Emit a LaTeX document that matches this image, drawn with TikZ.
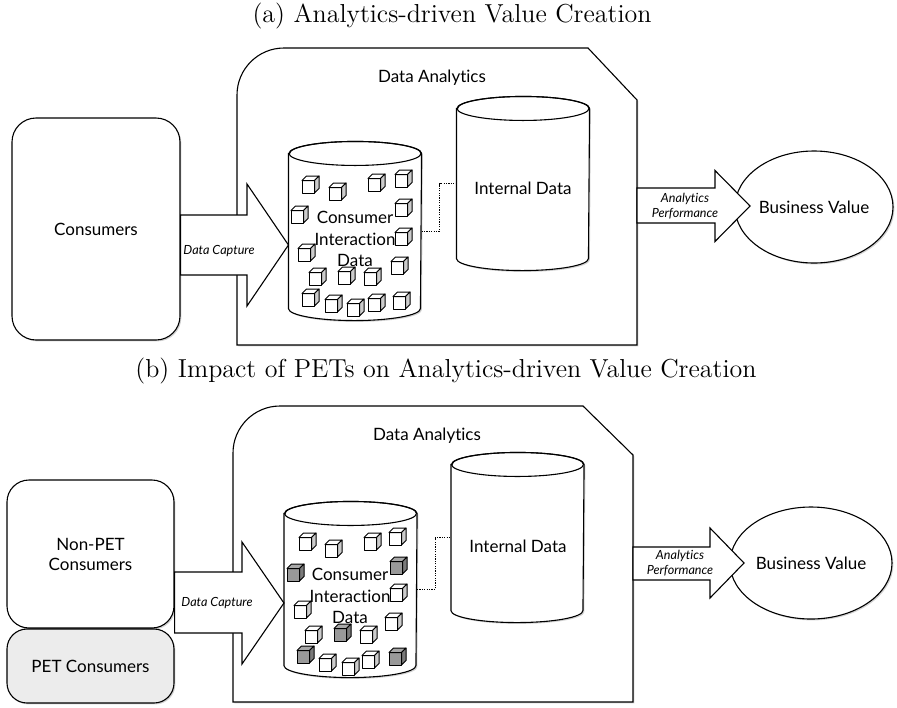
\documentclass[tikz,border=0pt]{standalone}
\usepackage{fontspec}
\newfontfamily\labelfont{Lato}[Ligatures=NoCommon]
\usetikzlibrary{calc,shadows,shapes.geometric}

\colorlet{petface}{gray!80}
\colorlet{petbox}{gray!15}

% a small data cube: front face, top face, shaded side
\tikzset{
  cubeline/.style={line width=0.5pt, line join=round},
  pics/datacube/.style={code={
    \draw[cubeline, fill=#1] (-8,-8) rectangle (4.5,4.5);
    \draw[cubeline, fill=#1!85!white] (-8,4.5) -- (-3.5,9) -- (9,9) -- (4.5,4.5) -- cycle;
    \draw[cubeline, fill=#1!80!black] (4.5,4.5) -- (9,9) -- (9,-3.5) -- (4.5,-8) -- cycle;
  }}
}

% database drum drawn round a body node that spans the two ellipse centres
\newcommand\drum[1]{%
  \draw[drumline] (#1.north west) -- (#1.south west)
    arc[start angle=180, end angle=360, x radius=33pt, y radius=6pt]
    -- (#1.north east)
    arc[start angle=0, end angle=180, x radius=33pt, y radius=6pt] -- cycle;
  \draw[line width=0.55pt] (#1.north) ellipse[x radius=33pt, y radius=6pt];
}

\begin{document}
\begin{tikzpicture}[x=0.5pt, y=0.5pt, line width=0.55pt,
  softshadow/.style={drop shadow={shadow xshift=0.7pt, shadow yshift=-0.7pt, opacity=0.35}},
  personbox/.style={draw, fill=white, rounded corners=12pt, softshadow, align=center,
    inner sep=0pt, font=\labelfont\fontsize{8.5}{10}\selectfont},
  frame/.style={draw, fill=white, softshadow},
  drumline/.style={draw, fill=white, softshadow, line width=0.55pt},
  drumbody/.style={inner sep=0pt, minimum width=66pt},
  txt/.style={inner sep=0pt, align=center, font=\labelfont\fontsize{8.5}{10.75}\selectfont},
  smalltxt/.style={inner sep=0pt, align=center, font=\labelfont\itshape\fontsize{6.3}{7.5}\selectfont},
  caption/.style={inner sep=0pt, font=\fontsize{13}{15}\selectfont},
  blockarr/.style={draw, fill=white, line join=miter},
  dotline/.style={line width=0.5pt, dash pattern=on 0.6pt off 0.6pt},
  valuebox/.style={draw, fill=white, ellipse, inner sep=0pt, softshadow,
    font=\labelfont\fontsize{8.5}{10}\selectfont}
]
\useasboundingbox (0,0) rectangle (897,-707);

% ---------------- (a) ----------------
\node[caption] (a-title) at (452,-16) {(a) Analytics-driven Value Creation};

\node[personbox, minimum width=84pt, minimum height=111pt] (a-cons) at (96,-229) {Consumers};

\draw[frame] (237,-345) -- (237,-95) arc[start angle=180, end angle=90, radius=23.5pt]
  -- (588,-48) -- (637,-100) -- (637,-345) -- cycle;
\node[txt] (a-da) at (432,-78) {Data Analytics};

\node[drumbody, minimum height=77pt] (a-ci) at (355,-231) {};
\node[drumbody, minimum height=74.5pt] (a-int) at (523,-183.5) {};
\drum{a-ci}
\drum{a-int}

\foreach \x/\y/\c in {310/185/white, 337/192/white, 376/183/white, 403/179/white,
  299/215/white, 403/208/white, 403/237/white, 306/253/white, 399/266/white,
  317/277/white, 346/276/white, 372/277/white, 310/298/white, 333/304/white,
  355/308/white, 376/303/white, 401/301/white}
  \pic at (\x,-\y) {datacube=\c};

\node[txt] (a-ci-lbl) at (355,-239) {Consumer\\Interaction\\Data};
\node[txt] (a-int-lbl) at (523,-188) {Internal Data};

\draw[dotline] (a-ci.east) -- ++(18,0) |- (a-int.west);

\draw[blockarr] (a-cons.east |- 0,-215) -- (247,-215) -- (247,-184)
  -- (a-ci.west |- 0,-245) -- (247,-306) -- (247,-275) -- (a-cons.east |- 0,-275) -- cycle;
\node[smalltxt] (a-capture) at (219,-251) {Data Capture};

\node[valuebox, minimum width=79pt, minimum height=56pt] (a-bv) at (814,-207) {Business Value};
\draw[blockarr] (637,-188) -- (715,-188) -- (715,-170.5) -- (750,-206)
  -- (715,-241.5) -- (715,-223) -- (637,-223) -- cycle;
\node[smalltxt] (a-perf) at (685,-206.5) {Analytics\\Performance};

% ---------------- (b) ----------------
\node[caption] (b-title) at (446,-371) {(b) Impact of PETs on Analytics-driven Value Creation};

\node[personbox, minimum width=83.5pt, minimum height=74pt, rounded corners=11pt] (b-nonpet) at (90.5,-554) {Non-PET\\Consumers};
\node[personbox, minimum width=83.5pt, minimum height=37pt, rounded corners=10pt, fill=petbox] (b-pet) at (90.5,-666) {PET Consumers};

\draw[frame] (233,-702) -- (233,-453) arc[start angle=180, end angle=90, radius=23.5pt]
  -- (583,-406) -- (633,-455) -- (633,-702) -- cycle;
\node[txt] (b-da) at (427,-436) {Data Analytics};

\node[drumbody, minimum height=75.5pt] (b-ci) at (350.5,-589.5) {};
\node[drumbody, minimum height=72.5pt] (b-int) at (517.5,-537.5) {};
\drum{b-ci}
\drum{b-int}

\foreach \x/\y/\c in {307/542/white, 333/549/white, 372/542/white, 397/537/white,
  295/573/petface, 398/566/petface, 398/593/white, 302/610/white, 393/622/white,
  313/635/white, 342/633/petface, 368/635/white, 305/655/petface, 327/663/white,
  350/667/white, 370/660/white, 397/657/petface}
  \pic at (\x,-\y) {datacube=\c};

\node[txt] (b-ci-lbl) at (350,-596) {Consumer\\Interaction\\Data};
\node[txt] (b-int-lbl) at (518,-546) {Internal Data};

\draw[dotline] (b-ci.east) -- ++(18,0) |- (b-int.west);

\draw[blockarr] (b-nonpet.east |- 0,-572) -- (242,-572) -- (242,-542)
  -- (b-ci.west |- 0,-603) -- (242,-664) -- (242,-633) -- (b-pet.east |- 0,-633) -- cycle;
\node[smalltxt] (b-capture) at (217,-603) {Data Capture};

\node[valuebox, minimum width=81pt, minimum height=56pt] (b-bv) at (811,-563) {Business Value};
\draw[blockarr] (633,-547) -- (710,-547) -- (710,-528) -- (744,-563)
  -- (710,-598) -- (710,-580) -- (633,-580) -- cycle;
\node[smalltxt] (b-perf) at (680,-563) {Analytics\\Performance};
\end{tikzpicture}
\end{document}
